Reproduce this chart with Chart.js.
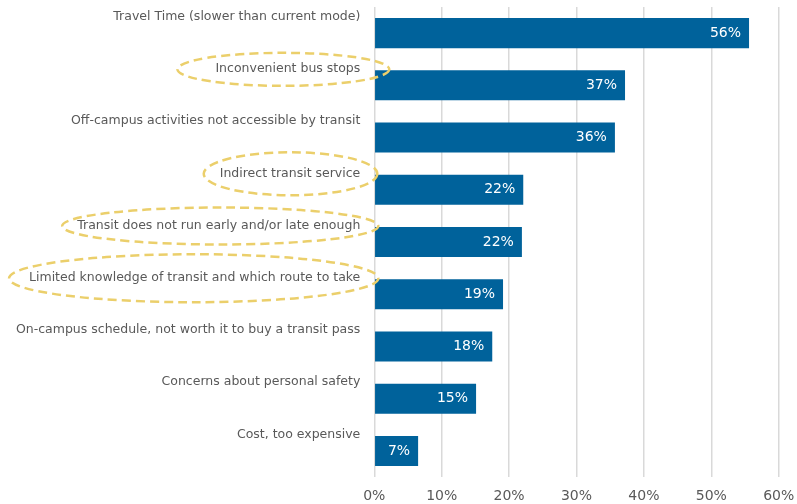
<!DOCTYPE html>
<html>
<head>
<meta charset="utf-8">
<script src="https://cdn.jsdelivr.net/npm/chart.js@4"></script>
<style>
  html, body { margin: 0; padding: 0; background: #fff; }
  #wrap { width: 797px; height: 504px; }
</style>
</head>
<body>
<div id="wrap"><canvas id="barChart" width="797" height="504"></canvas></div>
<script>
const categories = [
  'Travel Time (slower than current mode)',
  'Inconvenient bus stops',
  'Off-campus activities not accessible by transit',
  'Indirect transit service',
  'Transit does not run early and/or late enough',
  'Limited knowledge of transit and which route to take',
  'On-campus schedule, not worth it to buy a transit pass',
  'Concerns about personal safety',
  'Cost, too expensive'
];
const shares = [55.6, 37.2, 35.7, 22.1, 21.9, 19.1, 17.5, 15.1, 6.5];
// which reasons are circled in the original
const circled = [false, true, false, true, true, true, false, false, false];
const tickValues = [0, 10, 20, 30, 40, 50, 60];

const FONT = '"DejaVu Sans", sans-serif';
const TEXT = '#595959';

// hand-drawn rings: extra room left / right of the text, half height
const rings = {
  1: [38, 29, 16.5],
  3: [16, 17, 21.5],
  4: [15, 18, 18.5],
  5: [20, 18, 24]
};

// category labels sit above each bar, right-aligned left of the axis
const labelPlugin = {
  id: 'labelsAbove',
  afterDatasetsDraw(chart) {
    const ctx = chart.ctx;
    const y = chart.scales.y;
    const left = chart.chartArea.left;
    ctx.save();
    ctx.font = '12.5px ' + FONT;
    ctx.textAlign = 'right';
    ctx.textBaseline = 'middle';
    categories.forEach((c, i) => {
      const cy = y.getPixelForValue(i) - 16.5;
      const tx = left - 14;
      ctx.fillStyle = TEXT;
      ctx.fillText(c, tx, cy);
      if (circled[i]) {
        const w = ctx.measureText(c).width;
        const [pl, pr, ry] = rings[i];
        const x0 = tx - w - pl, x1 = tx + pr;
        ctx.beginPath();
        ctx.ellipse((x0 + x1) / 2, cy + 0.5, (x1 - x0) / 2, ry, 0, 0, Math.PI * 2);
        ctx.strokeStyle = '#ebcf6b';
        ctx.lineWidth = 2.5;
        ctx.setLineDash([9, 5]);
        ctx.stroke();
        ctx.setLineDash([]);
      }
    });
    // value labels inside bar ends
    ctx.font = '14px ' + FONT;
    ctx.fillStyle = '#ffffff';
    const meta = chart.getDatasetMeta(0);
    meta.data.forEach((bar, i) => {
      ctx.fillText(Math.round(shares[i]) + '%', bar.x - 8, bar.y);
    });
    ctx.restore();
  }
};

const ctx = document.getElementById('barChart');

new Chart(ctx, {
  type: 'bar',
  data: {
    labels: categories,
    datasets: [{
      data: shares,
      backgroundColor: '#00629b',
      borderWidth: 0,
      barPercentage: 0.575,
      categoryPercentage: 1
    }]
  },
  options: {
    indexAxis: 'y',
    responsive: false,
    animation: false,
    layout: { padding: { left: 374.3, right: 18.3, top: 7, bottom: 0 } },
    plugins: {
      legend: { display: false },
      tooltip: { enabled: false }
    },
    scales: {
      x: {
        min: 0,
        max: 60,
        afterBuildTicks(scale) {
          scale.ticks = tickValues.map(v => ({ value: v }));
        },
        afterFit(scale) {
          scale.height = 27;
          scale.paddingLeft = 0;
          scale.paddingRight = 0;
        },
        grid: { color: '#d9d9d9', lineWidth: 1.5, drawTicks: false },
        border: { display: false },
        ticks: {
          padding: 11,
          color: TEXT,
          font: { family: FONT, size: 14 },
          callback: v => v + '%'
        }
      },
      y: {
        display: false
      }
    }
  },
  plugins: [labelPlugin]
});
</script>
</body>
</html>
